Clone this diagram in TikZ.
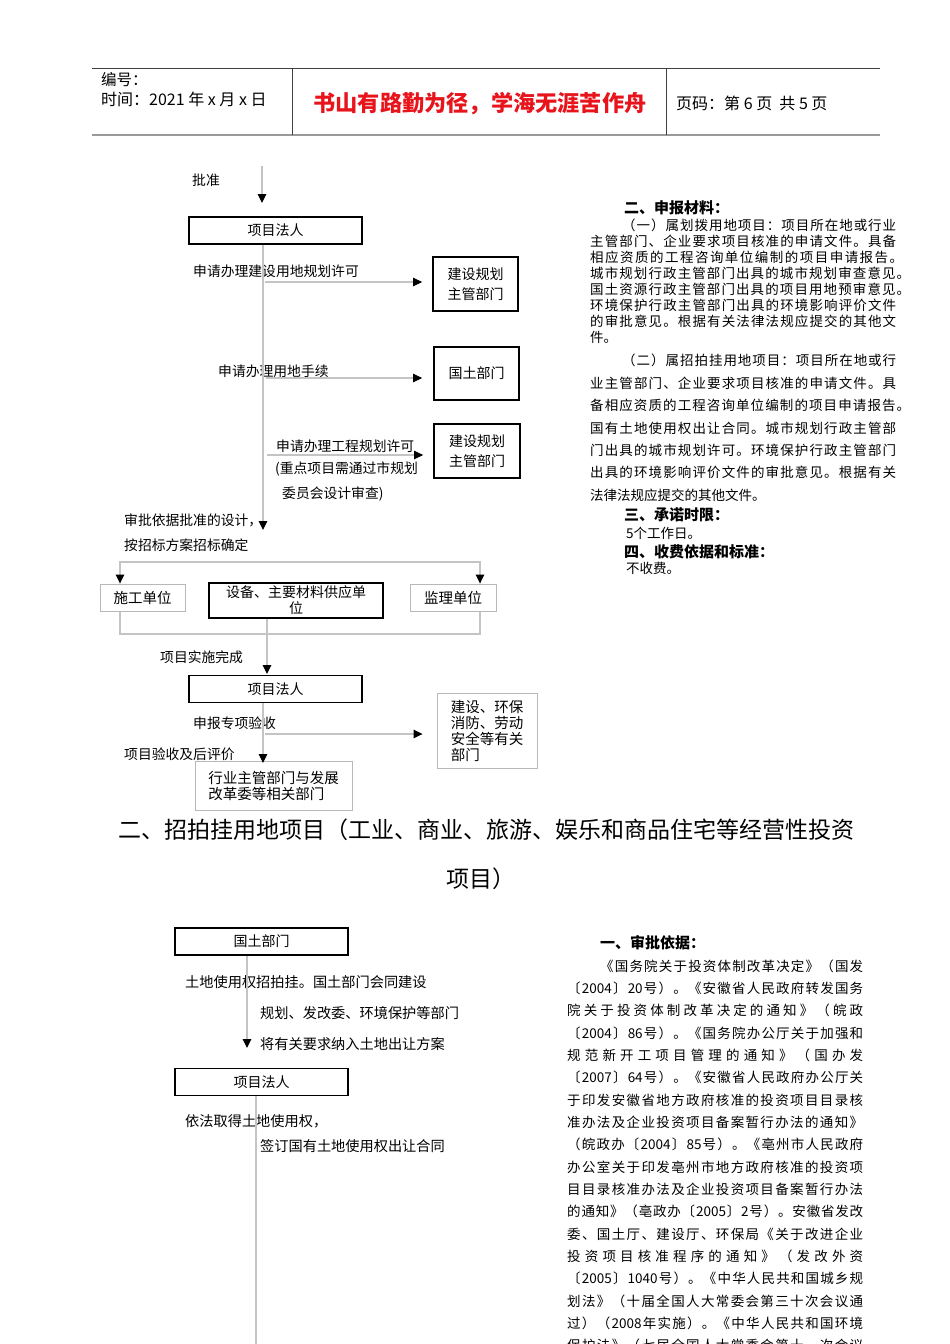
\documentclass[tikz,border=0pt]{standalone}
\usepackage{fontspec}
\setmainfont{Noto Sans CJK SC}
\usepackage{xcolor}
\usetikzlibrary{arrows.meta,positioning}

\definecolor{lgray}{HTML}{C4C4C4}
\definecolor{bgray}{HTML}{B8B8B8}
\definecolor{hgray}{HTML}{404040}
\definecolor{mgray}{HTML}{9A9A9A}
\definecolor{tred}{HTML}{E8141B}

\newcommand{\fz}[2]{\fontsize{#1}{#2}\selectfont}
% spread one line of Chinese text over a given width
\newcount\cjkc
\newcommand{\cjkrange}[2]{\cjkc=#1 \loop\XeTeXcharclass\cjkc=1 \advance\cjkc by 1 \ifnum\cjkc<#2 \repeat}
\cjkrange{"3000}{"3040}
\cjkrange{"4E00}{"A000}
\cjkrange{"FF00}{"FFF0}
\newcommand{\jglue}{\hskip 0pt plus 1fil}
\XeTeXinterchartoks 1 1 = {\jglue}
\XeTeXinterchartoks 0 1 = {\jglue}
\XeTeXinterchartoks 1 0 = {\jglue}
\newcommand{\jline}[2]{\makebox[#1][s]{\XeTeXinterchartokenstate=1 #2}}

\begin{document}
\begin{tikzpicture}[x=1pt,y=-1pt,
    box/.style={draw=black,line width=1.8pt,minimum width=173pt,minimum height=27pt,inner sep=0pt,align=center,font=\fz{14}{20}},
    sbox/.style={draw=bgray,line width=0.9pt,inner sep=0pt,align=left,font=\fz{14.5}{16}},
    lab/.style={anchor=west,inner sep=0pt,font=\fz{13.8}{14}},
    para/.style={anchor=west,inner sep=0pt,font=\fz{13.5}{14}},
    head/.style={anchor=west,inner sep=0pt,font=\fz{15}{15}\bfseries},
    ln/.style={draw=lgray,line width=1.1pt},
    arr/.style={ln,-{Triangle[length=9pt,width=8.5pt,color=black]}},
]
\useasboundingbox (0,0) rectangle (950,1344);
\clip (0,0) rectangle (950,1344);
\fill[white] (0,0) rectangle (950,1344);

% header
\draw[hgray,line width=0.8pt] (92,68) -- (880,68);
\draw[mgray,line width=2pt] (92,135) -- (880,135);
\draw[hgray,line width=0.8pt] (292,68) -- (292,135);
\draw[hgray,line width=0.8pt] (666,68) -- (666,135);
\node[anchor=west,inner sep=0pt,font=\fz{15.5}{15}] (bh) at (101,80) {编号：};
\node[anchor=west,inner sep=0pt,font=\fz{16}{16}] (sj) at (101,99) {时间：2021 年 x 月 x 日};
\node[inner sep=0pt,font=\fz{22.2}{22}\bfseries,text=tred] (bt) at (480,104) {书山有路勤为径，学海无涯苦作舟};
\node[anchor=west,inner sep=0pt,font=\fz{16}{16}] (ym) at (676,103) {页码：第 6 页 \ 共 5 页};

% flow, part one
\node[box] (xm1) at (275.5,230.5) {项目法人};
\node[box,minimum width=85pt,minimum height=54pt] (gh1) at (475.5,284) {建设规划\\主管部门};
\node[box,minimum width=85pt,minimum height=53pt] (gt1) at (476.5,373.5) {国土部门};
\node[box,minimum width=86pt,minimum height=54pt] (gh2) at (477,451) {建设规划\\主管部门};
\node[sbox,minimum width=85pt,minimum height=27pt] (sg) at (142.5,597.5) {施工单位};
\node[box,minimum width=174pt,minimum height=35pt,font=\fz{14}{16}] (sb) at (296,600.5) {设备、主要材料供应单\\位};
\node[sbox,minimum width=86pt,minimum height=27pt] (jl) at (453,597.5) {监理单位};
\node[box] (xm2) at (275.5,689) {项目法人};
\node[sbox,minimum width=100pt,minimum height=75pt] (ys) at (487,730.5) {建设、环保\\消防、劳动\\安全等有关\\部门};
\node[sbox,minimum width=157pt,minimum height=49pt] (hy) at (273.5,785.5) {行业主管部门与发展\\改革委等相关部门};

\node[lab] (pz) at (192,180) {批准};
\node[lab] (l1) at (193,271) {申请办理建设用地规划许可};
\node[lab] (l2) at (218,371) {申请办理用地手续};
\node[lab] (l3) at (276,446) {申请办理工程规划许可};
\node[lab] (l4) at (275,469) {(重点项目需通过市规划};
\node[lab] (l5) at (282,494) {委员会设计审查)};
\node[lab] (l6) at (124,520) {审批依据批准的设计，};
\node[lab] (l7) at (124,545) {按招标方案招标确定};
\node[lab] (l8) at (160,657) {项目实施完成};
\node[lab] (l9) at (193,723) {申报专项验收};
\node[lab] (l10) at (124,754) {项目验收及后评价};

\coordinate (a0) at (262,166);
\coordinate (a1) at (262,203);
\draw[arr] (a0) -- (a1);
\coordinate (b1) at (263,530);
\draw[arr] (xm1.south -| b1) -- (b1);
\coordinate (h1) at (265,282);
\coordinate (h2) at (266,378);
\coordinate (h3) at (267,455);
\draw[arr,shorten >=10pt] (h1) -- (h1 -| gh1.west);
\draw[arr,shorten >=11pt] (h2) -- (h2 -| gt1.west);
\draw[arr,shorten >=10pt] (h3) -- (h3 -| gh2.west);

\coordinate (d1) at (120,562);
\coordinate (d2) at (480,562);
\draw[arr] (d2) -- (d1) -- (sg.north -| d1);
\draw[arr] (d1) -- (d2) -- (jl.north -| d2);
\coordinate (e1) at (120,634);
\coordinate (e2) at (480,634);
\draw[ln] (sg.south -| e1) -- (e1) -- (e2) -- (jl.south -| e2);
\coordinate (b2) at (267,674);
\draw[arr] (sb.south -| b2) -- (b2);
\coordinate (b3) at (263,763);
\draw[arr] (xm2.south -| b3) -- (b3);
\coordinate (h4) at (265,734);
\draw[arr,shorten >=14pt] (h4) -- (h4 -| ys.west);

% right column, part one
\node[head] (s2) at (624,208) {二、申报材料：};
\node[para] (p1) at (622,225) {\jline{274pt}{（一）属划拨用地项目：项目所在地或行业}};
\node[para] (p2) at (590,241) {\jline{306pt}{主管部门、企业要求项目核准的申请文件。具备}};
\node[para] (p3) at (590,257) {\jline{313pt}{相应资质的工程咨询单位编制的项目申请报告。}};
\node[para] (p4) at (590,273) {\jline{320pt}{城市规划行政主管部门出具的城市规划审查意见。}};
\node[para] (p5) at (590,289) {\jline{320pt}{国土资源行政主管部门出具的项目用地预审意见。}};
\node[para] (p6) at (590,305) {\jline{306pt}{环境保护行政主管部门出具的环境影响评价文件}};
\node[para] (p7) at (590,321) {\jline{306pt}{的审批意见。根据有关法律法规应提交的其他文}};
\node[para] (p8) at (590,337) {件。};
\node[para] (r1) at (622,360) {\jline{274pt}{（二）属招拍挂用地项目：项目所在地或行}};
\node[para] (r2) at (590,383) {\jline{306pt}{业主管部门、企业要求项目核准的申请文件。具}};
\node[para] (r3) at (590,405.5) {\jline{320pt}{备相应资质的工程咨询单位编制的项目申请报告。}};
\node[para] (r4) at (590,428) {\jline{306pt}{国有土地使用权出让合同。城市规划行政主管部}};
\node[para] (r5) at (590,450) {\jline{306pt}{门出具的城市规划许可。环境保护行政主管部门}};
\node[para] (r6) at (590,472.5) {\jline{306pt}{出具的环境影响评价文件的审批意见。根据有关}};
\node[para] (r7) at (590,495) {法律法规应提交的其他文件。};
\node[head] (s3) at (624,515) {三、承诺时限：};
\node[para] (t1) at (626,533) {5个工作日。};
\node[head] (s4) at (624,552) {四、收费依据和标准：};
\node[para] (t2) at (626,568) {不收费。};

% section title
\node[anchor=west,inner sep=0pt,font=\fz{23}{23}] (tt1) at (118,830) {二、招拍挂用地项目（工业、商业、旅游、娱乐和商品住宅等经营性投资};
\node[inner sep=0pt,font=\fz{23}{23}] (tt2) at (481,879) {项目）};

% flow, part two
\node[box] (gt3) at (261.5,941.5) {国土部门};
\node[box] (xm3) at (261.5,1082) {项目法人};
\node[lab,font=\fz{14.2}{14}] (m1) at (185,982) {土地使用权招拍挂。国土部门会同建设};
\node[lab,font=\fz{14.2}{14}] (m2) at (260,1013) {规划、发改委、环境保护等部门};
\node[lab,font=\fz{14.2}{14}] (m3) at (260,1044) {将有关要求纳入土地出让方案};
\node[lab,font=\fz{14.2}{14}] (m4) at (185,1121) {依法取得土地使用权，};
\node[lab,font=\fz{14.2}{14}] (m5) at (260,1146) {签订国有土地使用权出让合同};
\coordinate (b4) at (247,1048);
\draw[arr] (gt3.south -| b4) -- (b4);
\coordinate (b5) at (256,1344);
\draw[ln] (xm3.south -| b5) -- (b5);

% right column, part two
\node[head] (s1) at (600,943) {一、审批依据：};
\node[para] (q0) at (600,966) {\jline{263pt}{《国务院关于投资体制改革决定》（国发}};
\foreach \t [count=\i] in {
    {〔2004〕20号）。《安徽省人民政府转发国务},
    {院关于投资体制改革决定的通知》（皖政},
    {〔2004〕86号）。《国务院办公厅关于加强和},
    {规范新开工项目管理的通知》（国办发},
    {〔2007〕64号）。《安徽省人民政府办公厅关},
    {于印发安徽省地方政府核准的投资项目目录核},
    {准办法及企业投资项目备案暂行办法的通知》},
    {（皖政办〔2004〕85号）。《亳州市人民政府},
    {办公室关于印发亳州市地方政府核准的投资项},
    {目目录核准办法及企业投资项目备案暂行办法},
    {的通知》（亳政办〔2005〕2号）。安徽省发改},
    {委、国土厅、建设厅、环保局《关于改进企业},
    {投资项目核准程序的通知》（发改外资},
    {〔2005〕1040号）。《中华人民共和国城乡规},
    {划法》（十届全国人大常委会第三十次会议通},
    {过）（2008年实施）。《中华人民共和国环境},
    {保护法》（七届全国人大常委会第十一次会议}}
    \node[para] (q\i) at (567,{966+22.33*\i}) {\jline{296pt}{\t}};
\end{tikzpicture}
\end{document}
